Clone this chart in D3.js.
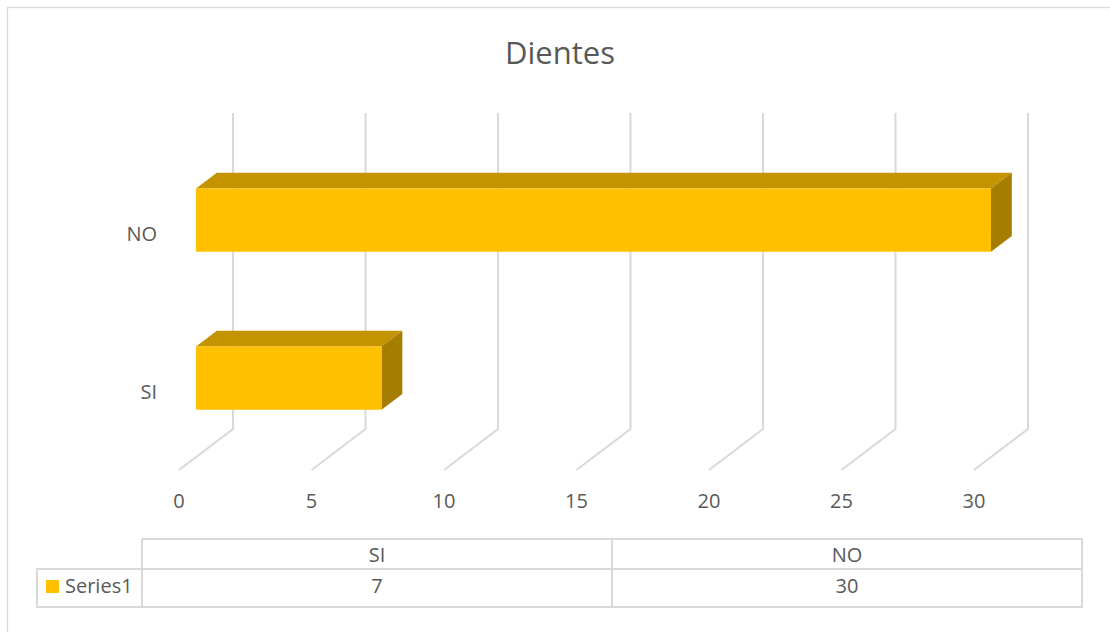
<!DOCTYPE html>
<html>
<head>
<meta charset="utf-8">
<script src="https://cdn.jsdelivr.net/npm/d3@7"></script>
<style>
  html, body { margin: 0; padding: 0; background: #ffffff; }
  svg { display: block; }
  text { font-family: "Open Sans", "Liberation Sans", sans-serif; fill: #595959; }
</style>
</head>
<body>
<svg id="chart" width="1110" height="632"></svg>
<script>
// ---- data ----
const title = "Dientes";
const categories = ["SI", "NO"];
const values = [7, 30];
const seriesName = "Series1";
const xTicks = [0, 5, 10, 15, 20, 25, 30];

// ---- layout ----
const svg = d3.select("#chart");
const gridColor = "#d9d9d9";
const frontColor = "#FFC000", topColor = "#C49400", sideColor = "#A57D00";

// 3D projection: value -> front x, category -> back-wall y, depth d in [0,1]
const x = d3.scaleLinear().domain([0, 30]).range([179, 974]);
const depthDx = 54, depthDy = 41;
const wallTop = 113, wallBottom = 429;
const y = d3.scaleBand().domain(categories).range([wallBottom, wallTop])
  .paddingInner(0.6).paddingOuter(0.3);
const d0 = 0.315, d1 = 0.70;
function P(v, yb, d) {
  return [x(v) + d * depthDx, yb + (1 - d) * depthDy];
}

// outer border
svg.append("rect").attr("x", 7.5).attr("y", 7.5).attr("width", 1300).attr("height", 800)
  .attr("fill", "#fff").attr("stroke", gridColor).attr("stroke-width", 1.3);

// title
svg.append("text").attr("x", 560).attr("y", 64).attr("text-anchor", "middle")
  .attr("font-size", 31).text(title);

// gridlines (back wall + floor)
const grid = svg.append("g");
xTicks.forEach(t => {
  const bTop = P(t, wallTop, 1);
  const bBot = P(t, wallBottom, 1);
  const fBot = P(t, wallBottom, 0);
  grid.append("path")
    .attr("d", `M${bTop[0]},${bTop[1]}L${bBot[0]},${bBot[1]}L${fBot[0]},${fBot[1]}`)
    .attr("fill", "none").attr("stroke", gridColor).attr("stroke-width", 2);
});

// tick labels
svg.append("g").selectAll("text").data(xTicks).join("text")
  .attr("x", d => x(d)).attr("y", 508).attr("text-anchor", "middle")
  .attr("font-size", 20).text(d => d);

// bars
const bars = svg.append("g");
categories.forEach((c, i) => {
  const v = values[i];
  const yt = y(c), yb = y(c) + y.bandwidth();
  const fTL = P(0, yt, d0), fTR = P(v, yt, d0), fBR = P(v, yb, d0), fBL = P(0, yb, d0);
  const bTL = P(0, yt, d1), bTR = P(v, yt, d1), bBR = P(v, yb, d1);
  const poly = pts => "M" + pts.map(p => p.join(",")).join("L") + "Z";
  bars.append("path").attr("d", poly([fTL, bTL, bTR, fTR])).attr("fill", topColor);
  bars.append("path").attr("d", poly([fTR, bTR, bBR, fBR])).attr("fill", sideColor);
  bars.append("path").attr("d", poly([fTL, fTR, fBR, fBL])).attr("fill", frontColor);
});

// category labels (front plane)
svg.append("g").selectAll("text").data(categories).join("text")
  .attr("x", 157).attr("y", d => y(d) + y.bandwidth() / 2 + depthDy + 8)
  .attr("text-anchor", "end").attr("font-size", 20).text(d => d);

// data table
const tx = d3.scaleBand().domain(categories).range([142, 1082]);
const rowTop = 539, rowMid = 569, rowBot = 607, legLeft = 37;
const tbl = svg.append("g").attr("fill", "none").attr("stroke", gridColor).attr("stroke-width", 2);
tbl.append("path").attr("d",
  `M142,${rowTop}H1082V${rowBot}H${legLeft}V${rowMid}H1082M142,${rowTop}V${rowBot}` +
  categories.slice(1).map(c => `M${tx(c)},${rowTop}V${rowBot}`).join(""));
svg.append("g").selectAll("text").data(categories).join("text")
  .attr("x", d => tx(d) + tx.bandwidth() / 2).attr("y", 562)
  .attr("text-anchor", "middle").attr("font-size", 20).text(d => d);
svg.append("g").selectAll("text").data(values).join("text")
  .attr("x", (d, i) => tx(categories[i]) + tx.bandwidth() / 2).attr("y", 593)
  .attr("text-anchor", "middle").attr("font-size", 20).text(d => d);
svg.append("rect").attr("x", 46).attr("y", 580).attr("width", 13).attr("height", 13).attr("fill", frontColor);
svg.append("text").attr("x", 65).attr("y", 593).attr("font-size", 20).text(seriesName);
</script>
</body>
</html>
